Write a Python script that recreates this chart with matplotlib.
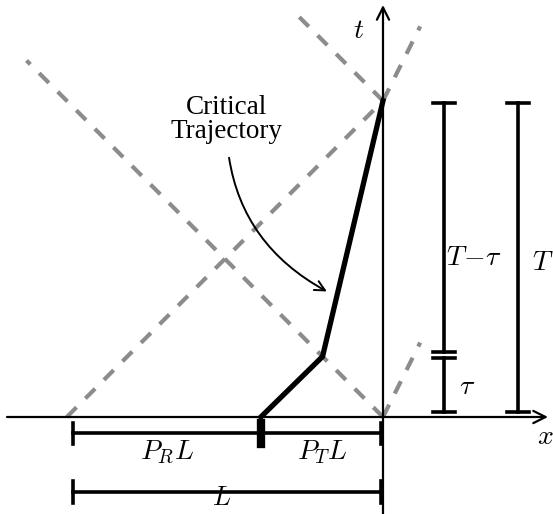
import numpy as np
import matplotlib
matplotlib.use("Agg")
import matplotlib.pyplot as plt

plt.rcParams["mathtext.fontset"] = "cm"

# scenario values (units of L)
L = 1.0
T = 1.02
TAU = 0.195
P_T = 0.394
V_SLOW = 0.5

# dashed cones: (start, direction, length along x)
CONE_LINES = [
    ((0.0, 0.0), (-1.0, 1.0), 1.15),
    ((-T, 0.0), (1.0, 1.0), T),
    ((0.0, T), (-1.0, 1.0), 0.27),
    ((0.0, T), (1.0, 1.0 / V_SLOW), 0.12),
    ((0.0, 0.0), (1.0, 1.0 / V_SLOW), 0.12),
]

traj_x = [-P_T, -TAU, 0.0]
traj_t = [0.0, TAU, T]

GRAY = "#8c8c8c"
px = 310.0  # pixels per unit L

fig = plt.figure(figsize=(5.53, 5.14), dpi=100)
ax = fig.add_axes([0, 0, 1, 1])
ax.set_xlim(-383 / px, 170 / px)
ax.set_ylim(-97 / px, 417 / px)
ax.axis("off")

# axes arrows
ax.annotate("", xy=(548 / px - 383 / px, 0), xytext=(-376 / px, 0),
            arrowprops=dict(arrowstyle="->", lw=1.6, color="black", mutation_scale=22,
                            shrinkA=0, shrinkB=0))
ax.annotate("", xy=(0, 412 / px), xytext=(0, -97 / px),
            arrowprops=dict(arrowstyle="->", lw=1.6, color="black", mutation_scale=22,
                            shrinkA=0, shrinkB=0))
ax.text(-0.08, 1.25, "$t$", fontsize=20, ha="center", va="center")
ax.text(0.525, -0.06, "$x$", fontsize=20, ha="center", va="center")

# dashed lines
for (x0, y0), (dx, dy), length in CONE_LINES:
    ax.plot([x0, x0 + dx * length], [y0, y0 + dy * length], color=GRAY, lw=3,
            dashes=(3.3, 3.0), solid_capstyle="butt", dash_capstyle="butt")

# trajectory
ax.plot(traj_x, traj_t, color="black", lw=3.8, solid_joinstyle="miter")

ax.annotate("Critical\nTrajectory", xy=(-0.181, 0.405), xytext=(-0.505, 0.96),
            ha="center", va="center", fontsize=19.5, family="Liberation Serif",
            linespacing=0.95,
            arrowprops=dict(arrowstyle="->", lw=1.4, color="black", mutation_scale=18,
                            connectionstyle="arc3,rad=0.3", shrinkA=8, shrinkB=0))

# horizontal brackets
yb1 = -0.052
yb2 = -0.242
th = 0.034
lw_b = 2.6
ax.plot([-L, -0.006], [yb1, yb1], color="black", lw=lw_b)
ax.plot([-L, -L], [yb1 - th, yb1 + th], color="black", lw=lw_b)
ax.plot([-0.006, -0.006], [yb1 - th, yb1 + th], color="black", lw=lw_b)
ax.plot([-P_T, -P_T], [yb1 - th, yb1 + th], color="black", lw=6)
ax.plot([-L, -0.006], [yb2, yb2], color="black", lw=lw_b)
ax.plot([-L, -L], [yb2 - th, yb2 + th], color="black", lw=lw_b)
ax.plot([-0.006, -0.006], [yb2 - th, yb2 + th], color="black", lw=lw_b)
ax.text(-(L + P_T) / 2, -0.113, "$P_R L$", fontsize=20, ha="center", va="center")
ax.text(-P_T / 2, -0.113, "$P_T L$", fontsize=20, ha="center", va="center")
ax.text(-L / 2 - 0.02, -0.262, "$L$", fontsize=19, ha="center", va="center")

# vertical brackets
xv1 = 61 / px
xv2 = 135 / px
cw = 0.037
bot = 0.016
top = T - 0.006
ax.plot([xv1, xv1], [bot, TAU - 0.005], color="black", lw=lw_b)
ax.plot([xv1, xv1], [TAU + 0.014, top], color="black", lw=lw_b)
for yy in [bot, TAU - 0.005, TAU + 0.014, top]:
    ax.plot([xv1 - cw, xv1 + cw], [yy, yy], color="black", lw=lw_b)
ax.plot([xv2, xv2], [bot, top], color="black", lw=lw_b)
for yy in [bot, top]:
    ax.plot([xv2 - cw, xv2 + cw], [yy, yy], color="black", lw=lw_b)
ax.text(xv1 + 0.075, 0.1, r"$\tau$", fontsize=20, ha="center", va="center")
ax.text(xv1 + 0.095, 0.515, r"$T\!-\!\tau$", fontsize=20, ha="center", va="center")
ax.text(xv2 + 0.08, 0.5, "$T$", fontsize=20, ha="center", va="center")

fig.savefig("out.png", dpi=100)
